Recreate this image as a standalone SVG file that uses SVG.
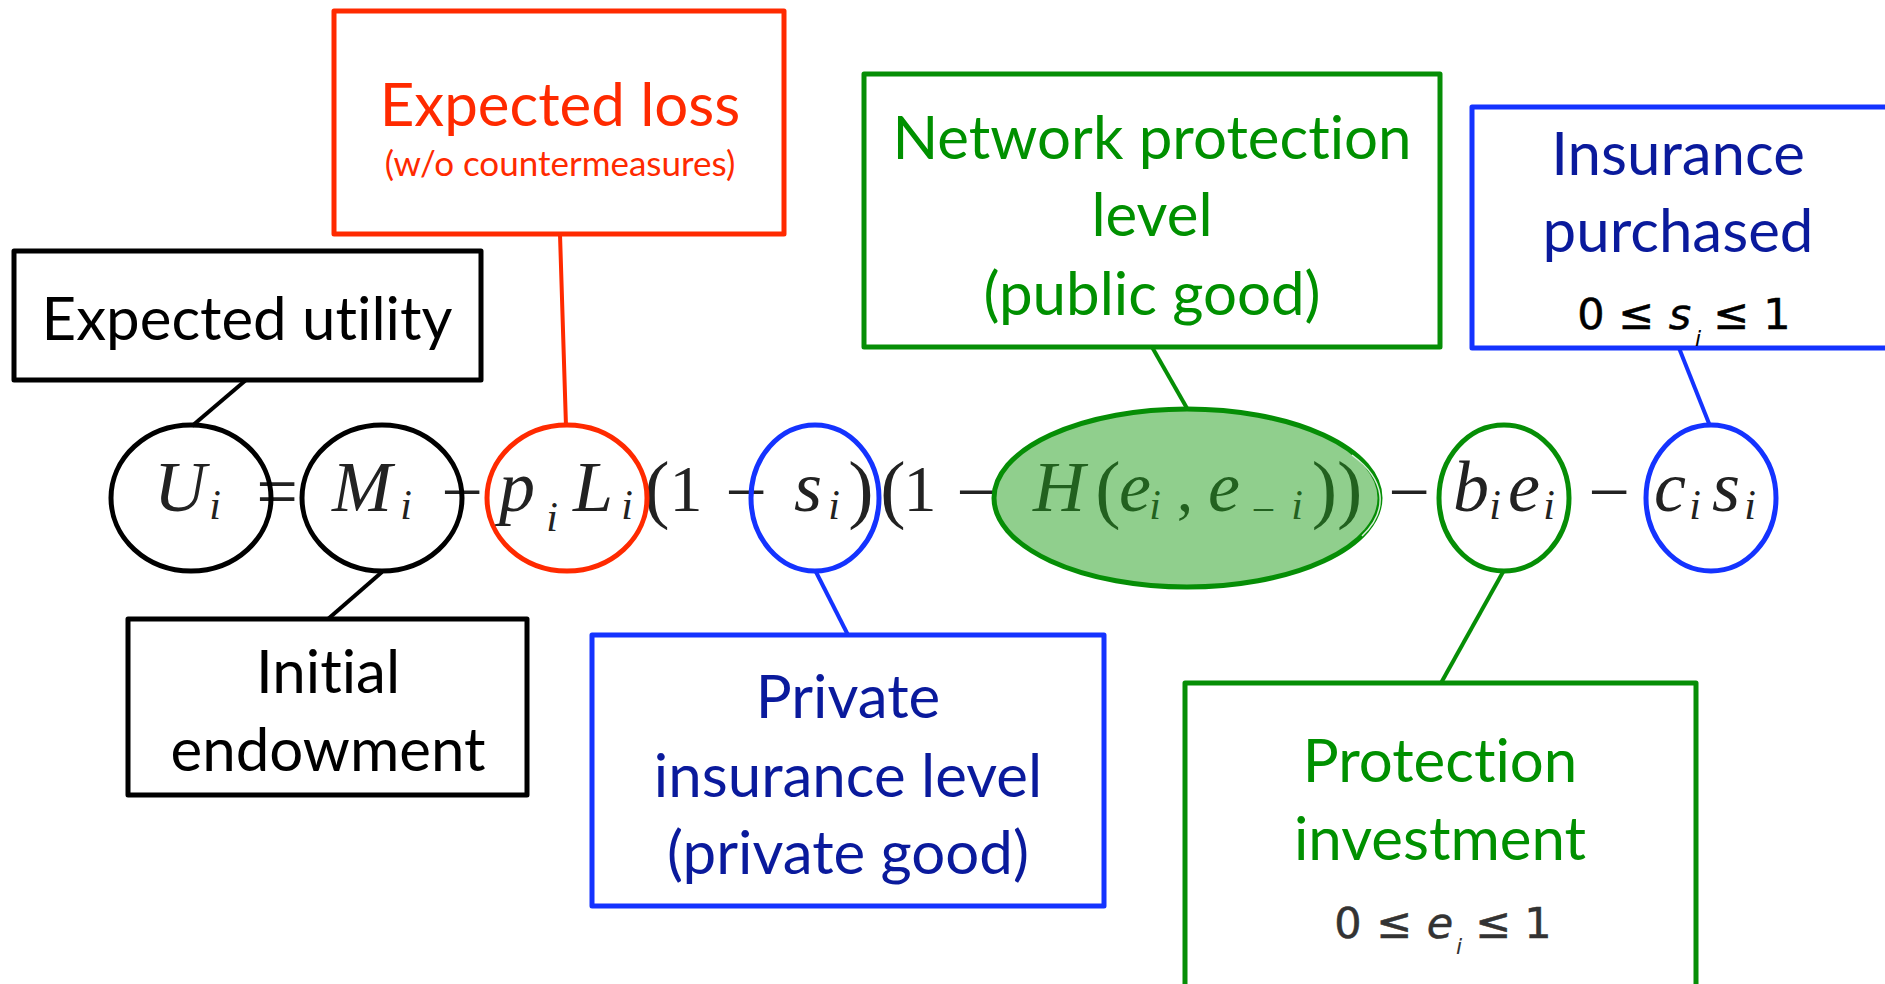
<svg xmlns="http://www.w3.org/2000/svg" width="1885" height="984" viewBox="0 0 1885 984">
  <style>
    .box { fill: #ffffff; stroke-width: 5; stroke-linejoin: round; }
    .lbl { font-family: Lato, "Open Sans", "Liberation Sans", sans-serif; font-size: 60px; text-anchor: middle; font-variant-ligatures: none; }
    .small { font-size: 35px; }
    .link { stroke-width: 4; fill: none; }
    .node { fill: none; stroke-width: 5; }
    #formula text { font-family: "Liberation Serif", serif; fill: #222222; text-anchor: middle; }
    .mi { font-style: italic; font-size: 72px; }
    .mr { font-size: 66px; }
    .par { font-size: 76px; }
    .op { font-size: 74px; }
    .sub { font-style: italic; font-size: 42px; }
    .rng { font-family: "DejaVu Sans", sans-serif; font-size: 43px; text-anchor: middle; stroke-width: 0.5; }
    .rngs { font-family: "DejaVu Sans", sans-serif; font-style: italic; font-size: 22px; text-anchor: middle; }
    .red { stroke: #ff2a00; }
    .grn { stroke: #068e06; }
    .blu { stroke: #1433ff; }
    .blk { stroke: #000000; }
  </style>

  <!-- connectors from the labels to the terms of the formula -->
  <g id="connectors">
    <line class="link blk" x1="246" y1="380" x2="192" y2="426"/>
    <line class="link blk" x1="382" y1="572" x2="328" y2="619"/>
    <line class="link red" x1="560" y1="234" x2="566" y2="426"/>
    <line class="link blu" x1="816" y1="572" x2="848" y2="635"/>
    <line class="link grn" x1="1152" y1="347" x2="1188" y2="410"/>
    <line class="link blu" x1="1679" y1="348" x2="1710" y2="426"/>
    <line class="link grn" x1="1503" y1="572" x2="1441" y2="683"/>
  </g>

  <!-- the utility formula, one glyph group per term -->
  <g id="formula">
    <text class="mi" x="180" y="511">U</text>
    <text class="sub" x="215" y="519">i</text>
    <text class="op" x="277" y="516" font-size="80">=</text>
    <text class="mi" x="362" y="511">M</text>
    <text class="sub" x="406" y="519">i</text>
    <text class="op" x="462" y="517">−</text>
    <text class="mi" x="517" y="511">p</text>
    <text class="sub" x="552" y="531">i</text>
    <text class="mi" x="593" y="511">L</text>
    <text class="sub" x="627" y="519">i</text>
    <text class="par" x="657" y="514">(</text>
    <text class="mr" x="686" y="511">1</text>
    <text class="op" x="746" y="517">−</text>
    <text class="mi" x="808" y="511">s</text>
    <text class="sub" x="834" y="519">i</text>
    <text class="par" x="861" y="514">)</text>
    <text class="par" x="893" y="514">(</text>
    <text class="mr" x="920" y="511">1</text>
    <text class="op" x="977" y="517">−</text>
    <text class="mi" x="1059" y="511">H</text>
    <text class="par" x="1108" y="514">(</text>
    <text class="mi" x="1135" y="511">e</text>
    <text class="sub" x="1155" y="519">i</text>
    <text class="mr" x="1185" y="511">,</text>
    <text class="mi" x="1224" y="511">e</text>
    <text class="sub" x="1263" y="524" font-size="62" font-style="normal">−</text>
    <text class="sub" x="1297" y="519">i</text>
    <text class="par" x="1337" y="514">))</text>
    <text class="op" x="1409" y="517">−</text>
    <text class="mi" x="1471" y="511">b</text>
    <text class="sub" x="1495" y="519">i</text>
    <text class="mi" x="1524" y="511">e</text>
    <text class="sub" x="1549" y="519">i</text>
    <text class="op" x="1609" y="517">−</text>
    <text class="mi" x="1670" y="511">c</text>
    <text class="sub" x="1695" y="519">i</text>
    <text class="mi" x="1726" y="511">s</text>
    <text class="sub" x="1750" y="519">i</text>
  </g>

  <!-- circled terms -->
  <g id="term-U">
    <ellipse class="node blk" cx="191" cy="498" rx="80" ry="73"/>
  </g>
  <g id="term-M">
    <ellipse class="node blk" cx="382" cy="498" rx="80" ry="73"/>
  </g>
  <g id="term-pL">
    <ellipse class="node red" cx="567" cy="498" rx="80" ry="73"/>
  </g>
  <g id="term-s">
    <ellipse class="node blu" cx="815" cy="498" rx="64" ry="73"/>
  </g>
  <g id="term-H">
    <ellipse cx="1187" cy="498" rx="193" ry="89" fill="#21a01c" fill-opacity="0.5" stroke="#068e06" stroke-width="5"/>
    <!-- light rim just inside the right edge -->
    <path d="M 1352 455 A 189 85 0 0 1 1362 536" fill="none" stroke="#ffffff" stroke-width="1.5" stroke-opacity="0.85"/>
  </g>
  <g id="term-be">
    <ellipse class="node grn" cx="1504" cy="498" rx="65" ry="73"/>
  </g>
  <g id="term-cs">
    <ellipse class="node blu" cx="1711" cy="498" rx="65" ry="73"/>
  </g>

  <!-- label boxes -->
  <g id="box-expected-loss">
    <rect class="box red" x="334" y="11" width="450" height="223"/>
    <text class="lbl" x="560" y="126" fill="#ff2a00">Expected loss</text>
    <text class="lbl small" x="560" y="176" fill="#ff2a00">(w/o countermeasures)</text>
  </g>

  <g id="box-expected-utility">
    <rect class="box blk" x="14" y="251" width="467" height="129"/>
    <text class="lbl" x="247" y="340" fill="#000000">Expected utility</text>
  </g>

  <g id="box-initial-endowment">
    <rect class="box blk" x="128" y="619" width="399" height="176"/>
    <text class="lbl" x="328" y="693" fill="#000000">Initial</text>
    <text class="lbl" x="328" y="771" fill="#000000">endowment</text>
  </g>

  <g id="box-private-insurance">
    <rect class="box blu" x="592" y="635" width="512" height="271"/>
    <text class="lbl" x="848" y="718" fill="#0a1a9c">Private</text>
    <text class="lbl" x="848" y="797" fill="#0a1a9c">insurance level</text>
    <text class="lbl" x="848" y="874" fill="#0a1a9c">(private good)</text>
  </g>

  <g id="box-network-protection">
    <rect class="box grn" x="864" y="74" width="576" height="273"/>
    <text class="lbl" x="1152" y="159" fill="#009000">Network protection</text>
    <text class="lbl" x="1152" y="236" fill="#009000">level</text>
    <text class="lbl" x="1152" y="315" fill="#009000">(public good)</text>
  </g>

  <g id="box-insurance-purchased">
    <rect class="box blu" x="1472" y="107" width="430" height="241"/>
    <text class="lbl" x="1678" y="175" fill="#0a1a9c">Insurance</text>
    <text class="lbl" x="1678" y="252" fill="#0a1a9c">purchased</text>
    <g fill="#000000" stroke="#000000">
      <text class="rng" x="1591" y="329">0</text>
      <text class="rng" x="1636" y="329">≤</text>
      <text class="rng" x="1680" y="329" font-style="italic">s</text>
      <text class="rngs" x="1698" y="346" stroke="none">i</text>
      <text class="rng" x="1731" y="329">≤</text>
      <text class="rng" x="1777" y="329">1</text>
    </g>
  </g>

  <g id="box-protection-investment">
    <rect class="box grn" x="1185" y="683" width="511" height="320"/>
    <text class="lbl" x="1440" y="782" fill="#009000">Protection</text>
    <text class="lbl" x="1440" y="860" fill="#009000">investment</text>
    <g fill="#333333" stroke="#333333">
      <text class="rng" x="1348" y="938">0</text>
      <text class="rng" x="1394" y="938">≤</text>
      <text class="rng" x="1440" y="938" font-style="italic">e</text>
      <text class="rngs" x="1459" y="954" stroke="none">i</text>
      <text class="rng" x="1493" y="938">≤</text>
      <text class="rng" x="1538" y="938">1</text>
    </g>
  </g>
</svg>
